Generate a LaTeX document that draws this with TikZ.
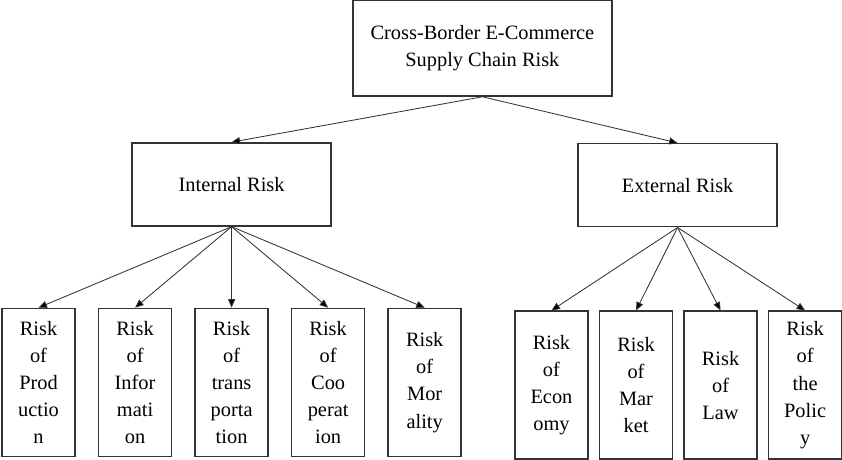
\documentclass[tikz,border=0pt]{standalone}
\usepackage{fontspec}
\setmainfont{Liberation Serif}
\usetikzlibrary{arrows.meta, positioning}

\begin{document}
\begin{tikzpicture}[node distance=2cm, auto,
    font=\fontsize{14.5}{19.5}\selectfont,
    root/.style={rectangle, draw=black!80, line width=1.1pt, align=center, minimum width=6.475cm, minimum height=2.4cm},
    branch/.style={rectangle, draw=black!80, line width=1.1pt, align=center, minimum width=4.975cm, minimum height=2.075cm},
    leaf/.style={rectangle, draw=black!80, line width=1.1pt, align=center, minimum width=1.825cm, minimum height=3.7cm, inner sep=1pt, font=\fontsize{14.5}{19.3}\selectfont},
    line/.style={draw=black!80, line width=0.6pt, -{Triangle[length=6pt, width=5pt, fill=black]}}
]
    \useasboundingbox (0,0) rectangle (21.05,-11.475);

    % Root
    \node [root] (risk) at (12.06,-1.2) {Cross-Border E-Commerce\\Supply Chain Risk};

    % Branches
    \node [branch] (internal) at (5.79,-4.61) {Internal Risk};
    \node [branch] (external) at (16.94,-4.63) {External Risk};

    % Internal risks
    \node [leaf, below=2.025cm of internal] (transport) {Risk\\of\\trans\\porta\\tion};
    \node [leaf, left=0.55cm of transport] (information) {Risk\\of\\Infor\\mati\\on};
    \node [leaf, left=0.55cm of information] (production) {Risk\\of\\Prod\\uctio\\n};
    \node [leaf, right=0.55cm of transport] (cooperation) {Risk\\of\\Coo\\perat\\ion};
    \node [leaf, right=0.55cm of cooperation] (morality) {Risk\\of\\Mor\\ality};

    % External risks
    \node [leaf, below=2.075cm of external, xshift=-1.04cm] (market) {Risk\\of\\Mar\\ket};
    \node [leaf, left=0.25cm of market] (economy) {Risk\\of\\Econ\\omy};
    \node [leaf, right=0.25cm of market] (law) {Risk\\of\\Law};
    \node [leaf, right=0.25cm of law] (policy) {Risk\\of\\the\\Polic\\y};

    % Connections
    \path [line] (risk.south) -- (internal.north);
    \path [line] (risk.south) -- (external.north);
    \path [line] (internal.south) -- (production.north);
    \path [line] (internal.south) -- (information.north);
    \path [line] (internal.south) -- (transport.north);
    \path [line] (internal.south) -- (cooperation.north);
    \path [line] (internal.south) -- (morality.north);
    \path [line] (external.south) -- (economy.north);
    \path [line] (external.south) -- (market.north);
    \path [line] (external.south) -- (law.north);
    \path [line] (external.south) -- (policy.north);
\end{tikzpicture}
\end{document}
